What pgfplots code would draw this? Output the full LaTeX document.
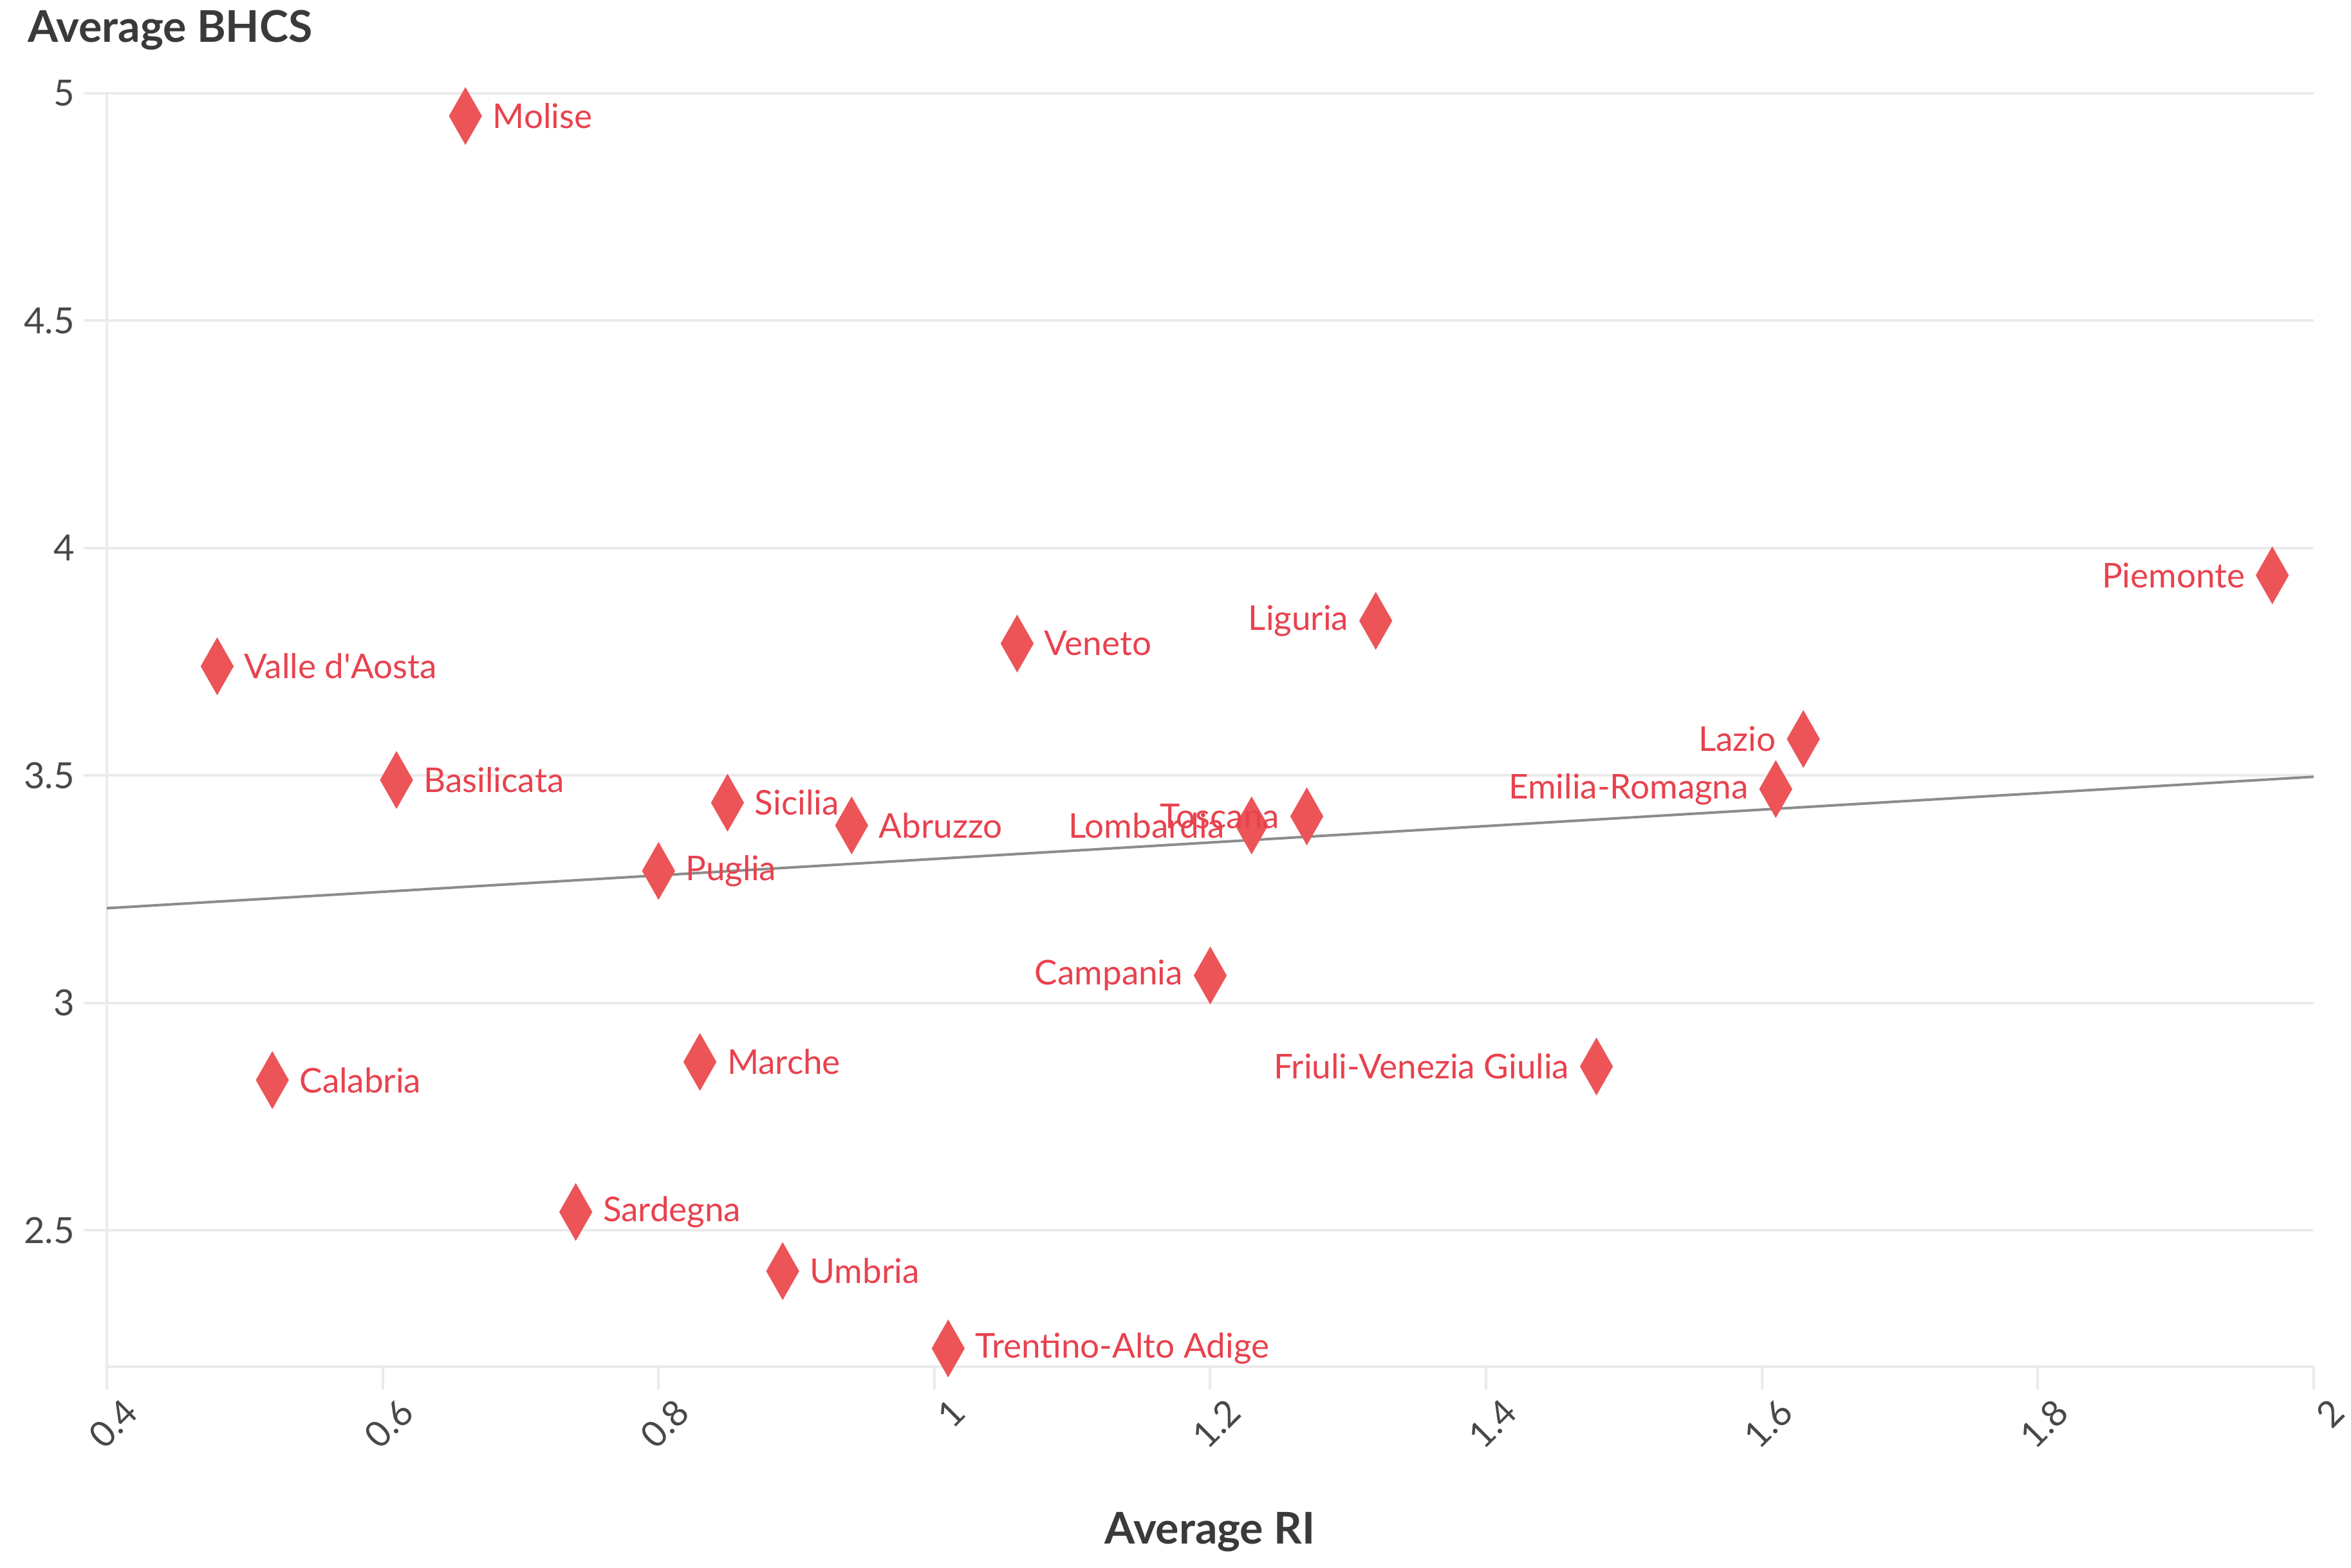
\documentclass[border=0pt]{standalone}
\usepackage{pgfplots}
\pgfplotsset{compat=1.18}
\usepackage{fontspec}
\setmainfont{Lato}
\definecolor{ptc}{RGB}{236,84,88}
\definecolor{lblc}{RGB}{232,66,78}
\definecolor{gridc}{RGB}{235,235,235}
\definecolor{tickc}{RGB}{72,72,72}
\definecolor{titlec}{RGB}{58,58,58}
\definecolor{trendc}{RGB}{140,140,140}
\begin{document}
\begin{tikzpicture}
\path[use as bounding box] (0,0) rectangle (1826.5pt,1218.5pt);
\begin{axis}[
  at={(83pt,156.5pt)}, anchor=south west,
  scale only axis, width=1714.5pt, height=989.5pt,
  xmin=0.4, xmax=2, ymin=2.2, ymax=5,
  axis x line=bottom, axis y line=left,
  axis line style={gridc, line width=2pt, -},
  xtick={0.4,0.6,0.8,1,1.2,1.4,1.6,1.8,2},
  ytick={2.5,3,3.5,4,4.5,5},
  ymajorgrids, grid style={gridc, line width=2pt},
  tick align=outside, major tick length=18pt,
  tick style={gridc, line width=2pt},
  ticklabel style={font=\fontsize{28}{32}\selectfont, text=tickc},
  /pgf/number format/assume math mode=true,
  xticklabel style={rotate=45, anchor=east, inner sep=0pt, xshift=4.5pt, yshift=-22pt},
  yticklabel style={anchor=east, inner sep=0pt, xshift=-7pt},
  clip=false,
  point meta=explicit symbolic,
  lab/.style={ptc, only marks, mark=diamond*, mark size=22pt,
    mark options={xscale=0.76, fill=ptc, draw=ptc, line width=0.5pt},
    nodes near coords, nodes near coords align={#1},
    nodes near coords style={inner sep=0pt, text=lblc,
      font=\fontsize{26.5}{30}\selectfont}},
]
% trend line
\addplot[trendc, line width=2pt, mark=none] coordinates {(0.4,3.208) (2,3.497)};

% labels to the right of the marker
\addplot[lab=west, nodes near coords style={xshift=21pt}] coordinates {
  (0.66,4.95) [Molise]
  (0.48,3.74) [Valle d\textquotesingle Aosta]
  (0.61,3.49) [Basilicata]
  (0.80,3.29) [Puglia]
  (0.85,3.44) [Sicilia]
  (0.94,3.39) [Abruzzo]
  (1.06,3.79) [Veneto]
  (0.52,2.83) [Calabria]
  (0.83,2.87) [Marche]
  (0.74,2.54) [Sardegna]
  (0.89,2.41) [Umbria]
  (1.01,2.24) [Trentino-Alto Adige]
};

% labels to the left of the marker
\addplot[lab=east, nodes near coords style={xshift=-21pt}] coordinates {
  (1.23,3.39) [Lombardia]
  (1.27,3.41) [Toscana]
  (1.32,3.84) [Liguria]
  (1.20,3.06) [Campania]
  (1.63,3.58) [Lazio]
  (1.61,3.47) [Emilia-Romagna]
  (1.97,3.94) [Piemonte]
  (1.48,2.86) [Friuli-Venezia Giulia]
};
\end{axis}
\node[anchor=west, text=titlec, font=\bfseries\fontsize{34}{40}\selectfont] at (18pt,1195pt) {Average BHCS};
\node[text=titlec, font=\bfseries\fontsize{34}{40}\selectfont] at (940pt,28pt) {Average RI};
\end{tikzpicture}
\end{document}
